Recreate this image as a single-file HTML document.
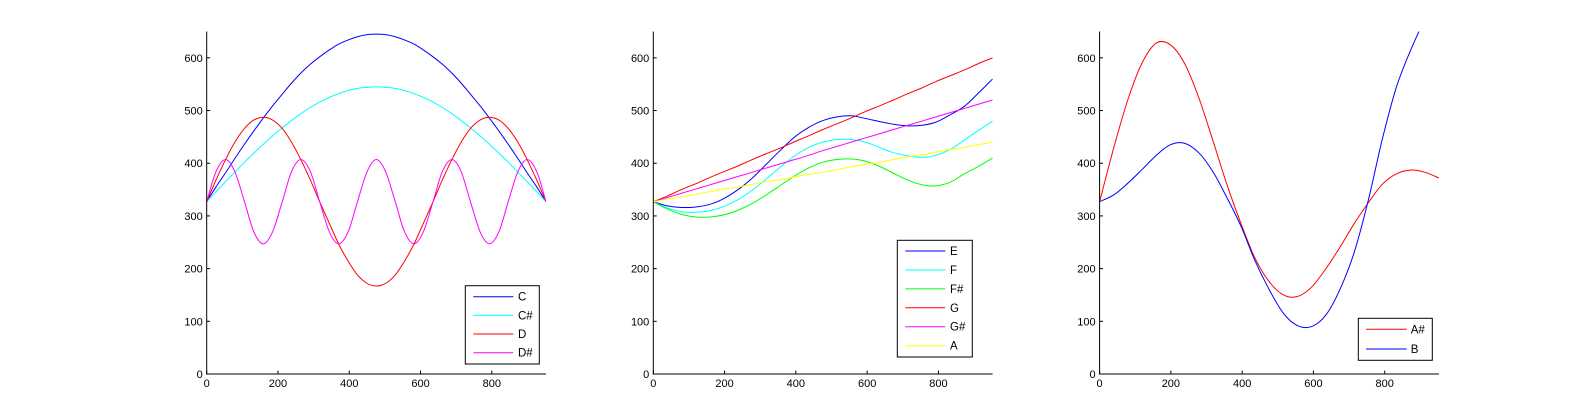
<!DOCTYPE html>
<html><head><meta charset="utf-8"><style>
html,body{margin:0;padding:0;background:#fff;}
svg{display:block;font-family:"Liberation Sans",Arial,sans-serif;}
</style></head><body>
<svg id="fig" width="1590" height="420" viewBox="0 0 1590 420">
<defs>
<clipPath id="c0"><rect x="206.7" y="31.5" width="339.3" height="342.5"/></clipPath>
<clipPath id="c1"><rect x="653.3" y="31.5" width="339.3" height="342.5"/></clipPath>
<clipPath id="c2"><rect x="1099.6" y="31.5" width="339.3" height="342.5"/></clipPath>
</defs>
</svg>
<script>
// ---- data ----
const xsFine = [0,26,53,79,106,132,159,185,212,238,264,291,317,344,370,397,423,450,476,502,529,555,582,608,635,661,688,714,740,767,793,820,846,873,899,926,952];
const xsCoarse = [0,40,79,119,159,198,238,278,317,357,397,436,476,516,555,595,635,674,714,754,793,833,873,912,952];
const xTicks = [0,200,400,600,800];
const yTicks = [0,100,200,300,400,500,600];

const cVals  = [327,355,382,409,436,461,486,509,531,552,571,588,602,615,626,634,640,644,645,644,640,634,626,615,602,588,571,552,531,509,486,461,436,409,382,355,327];
const csVals = [327,346,365,383,402,419,436,452,467,481,494,506,516,525,532,538,542,544,545,544,542,538,532,525,516,506,494,481,467,452,436,419,402,383,365,346,327];
const dVals  = [327,368,407,440,466,482,487,482,466,440,407,368,327,286,247,214,188,172,167,172,188,214,247,286,327,368,407,440,466,482,487,482,466,440,407,368,327];
const dsVals = [327,384,407,384,327,270,247,270,327,384,407,384,327,270,247,270,327,384,407,384,327,270,247,270,327,384,407,384,327,270,247,270,327,384,407,384,327];

const eVals  = [327,319,316,317,322,333,350,372,398,425,450,468,481,488,490,485,479,474,471,472,478,492,508,533,560];
const fVals  = [327,315,308,307,310,318,331,349,370,393,414,430,440,445,445,440,430,420,414,411,415,426,444,462,480];
const fsVals = [327,313,303,298,298,302,311,324,340,358,376,391,402,407,408,404,394,381,368,359,357,364,380,394,410];
const gVals  = [327,338,350,361,373,384,395,407,418,429,441,452,464,475,486,498,509,520,532,543,555,566,577,589,600];
const gsVals = [327,335,343,351,359,367,375,383,391,399,407,415,424,432,440,448,456,464,472,480,488,496,504,512,520];
const aVals  = [327,332,336,341,346,351,355,360,365,369,374,379,383,388,393,398,402,407,412,416,421,426,430,435,440];

const asVals = [327,430,520,590,628,625,590,525,445,360,285,220,175,150,147,165,200,240,285,325,360,380,387,383,372];
const bVals  = [327,340,362,388,415,435,438,420,385,335,280,215,160,115,92,90,112,160,230,330,445,545,615,672,720];

// ---- layout ----
const NS = "http://www.w3.org/2000/svg";
const svg = document.getElementById('fig');
const W = 339.3, TOP = 31.5, BOT = 374, XMAX = 952, YMAX = 650;
const panels = [
 {left:206.7, clip:'c0', xs:xsFine, series:[['C','#0000ff',cVals],['C#','#00ffff',csVals],['D','#ff0000',dVals],['D#','#ff00ff',dsVals]],
  leg:{x:465.3,y:285.7,w:74,h:78.3,l1:473.3,l2:513.3,tx:518,rows:[296.7,315.3,334,352.7]}},
 {left:653.3, clip:'c1', xs:xsCoarse, series:[['E','#0000ff',eVals],['F','#00ffff',fVals],['F#','#00ff00',fsVals],['G','#ff0000',gVals],['G#','#ff00ff',gsVals],['A','#ffff00',aVals]],
  leg:{x:897.3,y:240.3,w:75,h:116.7,l1:905.3,l2:945.3,tx:950,rows:[251,270,288.9,307.8,326.7,345.7]}},
 {left:1099.6, clip:'c2', xs:xsCoarse, series:[['A#','#ff0000',asVals],['B','#0000ff',bVals]],
  leg:{x:1358.3,y:318.3,w:74,h:42,l1:1366,l2:1406.7,tx:1410.7,rows:[329.3,349]}}
];
function mk(tag, attrs, parent){const e=document.createElementNS(NS,tag);for(const k in attrs)e.setAttribute(k,attrs[k]);(parent||svg).appendChild(e);return e;}
function pathFrom(pts){
  let d='M'+pts[0][0].toFixed(2)+','+pts[0][1].toFixed(2);
  for(let i=0;i<pts.length-1;i++){
    const p0=pts[i-1]||pts[i],p1=pts[i],p2=pts[i+1],p3=pts[i+2]||pts[i+1];
    const c1=[p1[0]+(p2[0]-p0[0])/6,p1[1]+(p2[1]-p0[1])/6];
    const c2=[p2[0]-(p3[0]-p1[0])/6,p2[1]-(p3[1]-p1[1])/6];
    d+='C'+c1[0].toFixed(2)+','+c1[1].toFixed(2)+' '+c2[0].toFixed(2)+','+c2[1].toFixed(2)+' '+p2[0].toFixed(2)+','+p2[1].toFixed(2);
  }
  return d;
}
panels.forEach((p,pi)=>{
  const sx=v=>p.left+v/XMAX*W, sy=v=>BOT-v/YMAX*(BOT-TOP);
  const g=mk('g',{});
  
  
  const sg=mk('g',{'clip-path':'url(#'+p.clip+')'},g);
  p.series.forEach(s=>{
    const pts=p.xs.map((x,i)=>[sx(x),sy(s[2][i])]);
    const path=mk('path',{d:pathFrom(pts),fill:'none',stroke:s[1],'stroke-width':1},sg);
    
    
  });
  const ax=mk('path',{d:`M${p.left},${TOP}V${BOT}H${p.left+W}`,fill:'none',stroke:'#000','stroke-width':1},g);
  
  
  xTicks.forEach(t=>{
    const x=sx(t);
    mk('line',{x1:x,x2:x,y1:BOT,y2:BOT-3.4,stroke:'#000'},g);
    const tx=mk('text',{x:x,y:BOT+13,'font-size':11,'text-anchor':'middle',fill:'#000'},g);
    tx.textContent=t;
    
    
  });
  yTicks.forEach(t=>{
    const y=sy(t);
    mk('line',{x1:p.left,x2:p.left+3.4,y1:y,y2:y,stroke:'#000'},g);
    const tx=mk('text',{x:p.left-4,y:y+4,'font-size':11,'text-anchor':'end',fill:'#000'},g);
    tx.textContent=t;
    
    
  });
  const L=p.leg;
  const lg=mk('g',{},g);
  
  
  mk('rect',{x:L.x,y:L.y,width:L.w,height:L.h,fill:'#fff',stroke:'#000','stroke-width':1},lg);
  p.series.forEach((s,i)=>{
    const e=mk('g',{},lg);
    
    
    mk('line',{x1:L.l1,x2:L.l2,y1:L.rows[i],y2:L.rows[i],stroke:s[1],'stroke-width':1},e);
    const t=mk('text',{x:L.tx,y:L.rows[i]+4,'font-size':11.5,fill:'#000'},e);
    t.textContent=s[0];
  });
});
</script>
</body></html>
